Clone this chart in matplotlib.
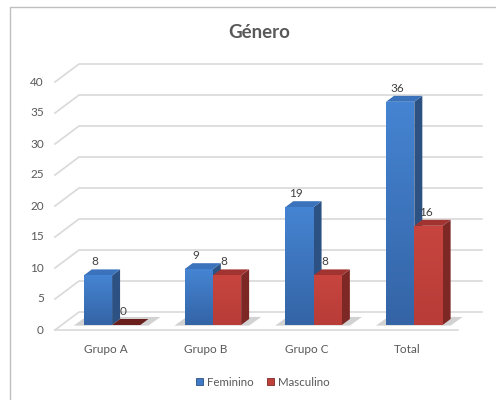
import matplotlib.pyplot as plt
import numpy as np
from matplotlib.patches import Polygon, Rectangle
from matplotlib.colors import LinearSegmentedColormap

plt.rcParams['font.family'] = ['Lato', 'DejaVu Sans']

# Survey counts by group
categories = ['Grupo A', 'Grupo B', 'Grupo C', 'Total']
feminino = [8, 9, 19, 36]
masculino = [0, 8, 8, 16]
series_names = ['Feminino', 'Masculino']
y_ticks = [0, 5, 10, 15, 20, 25, 30, 35, 40]

# pixel scale of the front plane (category step and value unit)
CAT_PX = 100.75
UNIT_PX = 6.2
W, H = 496, 400
LEFT_PX, FLOOR_PX = 55, 330

# pseudo-3D offsets in data units
BACK_DX, BACK_DY = 24 / CAT_PX, 18 / UNIT_PX
BAR_DX, BAR_DY = 6.7 / CAT_PX, 5 / UNIT_PX
SIDE_DX, SIDE_DY = 8 / CAT_PX, 6 / UNIT_PX
BAR_W = 28.3 / CAT_PX

grid_col = '#d9d9d9'
text_col = '#595959'

fig = plt.figure(figsize=(W / 100, H / 100), dpi=100)
ax = fig.add_axes([0, 0, 1, 1])
ax.set_xlim(-0.5 - LEFT_PX / CAT_PX, -0.5 + (W - LEFT_PX) / CAT_PX)
ax.set_ylim(-(H - FLOOR_PX) / UNIT_PX, FLOOR_PX / UNIT_PX)
ax.axis('off')

# outer chart border (runs off the right and bottom)
ax.add_patch(Rectangle((10 / W, -0.1), 1.2, 1 - 7 / H + 0.1, transform=ax.transAxes,
                       fill=False, edgecolor='#bfbfbf', lw=1.0, clip_on=False))

x_lo, x_hi = -0.5, len(categories) - 0.5

# gridlines: short diagonal from the wall, then along the back wall
for v in y_ticks:
    ax.plot([x_lo, x_lo + BACK_DX, x_hi + BACK_DX], [v, v + BACK_DY, v + BACK_DY],
            color=grid_col, lw=1.2, zorder=1)
    ax.text(x_lo - 0.11, v, str(v), ha='right', va='center', fontsize=8.5, color=text_col)
# front edge of the floor
ax.plot([x_lo, x_hi], [0, 0], color=grid_col, lw=1.2, zorder=1)

for i, c in enumerate(categories):
    ax.text(i, -3.2, c, ha='center', va='center', fontsize=8.5, color=text_col)

blue = dict(top='#4584d2', bottom='#3464a6', side='#2c5283', cap='#3a72bb')
red = dict(top='#c8453f', bottom='#b83c38', side='#7e2826', cap='#a13431', flat='#6b1f1d')


def draw_bar(x0, v, col):
    y0 = BAR_DY
    front = [(x0, y0), (x0 + BAR_W, y0), (x0 + BAR_W, y0 + v), (x0, y0 + v)]
    side = [(x0 + BAR_W, y0), (x0 + BAR_W + SIDE_DX, y0 + SIDE_DY),
            (x0 + BAR_W + SIDE_DX, y0 + v + SIDE_DY), (x0 + BAR_W, y0 + v)]
    cap = [(x0, y0 + v), (x0 + BAR_W, y0 + v),
           (x0 + BAR_W + SIDE_DX, y0 + v + SIDE_DY), (x0 + SIDE_DX, y0 + v + SIDE_DY)]
    if v == 0:
        ax.add_patch(Polygon(cap, closed=True, facecolor=col.get('flat', col['cap']),
                             edgecolor='none', zorder=4))
        return
    ax.add_patch(Polygon(side, closed=True, facecolor=col['side'], edgecolor='none', zorder=4))
    ax.add_patch(Polygon(cap, closed=True, facecolor=col['cap'], edgecolor='none', zorder=4))
    face = Polygon(front, closed=True, facecolor='none', edgecolor='none', zorder=5)
    ax.add_patch(face)
    cmap = LinearSegmentedColormap.from_list('g', [col['bottom'], col['top']])
    grad = np.linspace(0, 1, 64).reshape(-1, 1)
    im = ax.imshow(grad, cmap=cmap, origin='lower', aspect='auto', zorder=5,
                   extent=(x0, x0 + BAR_W, y0, y0 + v), interpolation='bilinear')
    im.set_clip_path(face)


for i in range(len(categories)):
    xc = i + BAR_DX
    # soft shadow on the floor
    sh = [(xc - BAR_W - 0.1, BAR_DY - 0.1), (xc + BAR_W + SIDE_DX, BAR_DY - 0.1),
          (xc + BAR_W + SIDE_DX + 0.12, BAR_DY + 1.3), (xc - BAR_W + 0.02, BAR_DY + 1.3)]
    ax.add_patch(Polygon(sh, closed=True, facecolor='#7f7f7f', alpha=0.35,
                         edgecolor='none', zorder=2))
    draw_bar(xc - BAR_W, feminino[i], blue)
    draw_bar(xc, masculino[i], red)
    ax.text(xc - BAR_W / 2 - 0.03, feminino[i] + BAR_DY + 2.2, str(feminino[i]),
            ha='center', va='center', fontsize=8.5, color='#404040', zorder=6)
    ax.text(xc + BAR_W / 2 - 0.03, masculino[i] + BAR_DY + 2.2, str(masculino[i]),
            ha='center', va='center', fontsize=8.5, color='#404040', zorder=6)

ax.text(1.53, 48.0, 'Género', ha='center', va='center', fontsize=13.5,
        fontweight='bold', color=text_col)

# legend
handles = [Rectangle((0, 0), 1, 1, facecolor='#3f7bc6', edgecolor='#2c5283', lw=0.6),
           Rectangle((0, 0), 1, 1, facecolor='#c0403c', edgecolor='#7e2826', lw=0.6)]
ax.legend(handles, series_names, loc='center', bbox_to_anchor=(0.53, 1 - 382 / H),
          ncol=2, frameon=False, fontsize=8.3, handlelength=0.6, handleheight=0.6,
          handletextpad=0.3, columnspacing=1.2, labelcolor=text_col)

fig.savefig('out.png', dpi=100)
